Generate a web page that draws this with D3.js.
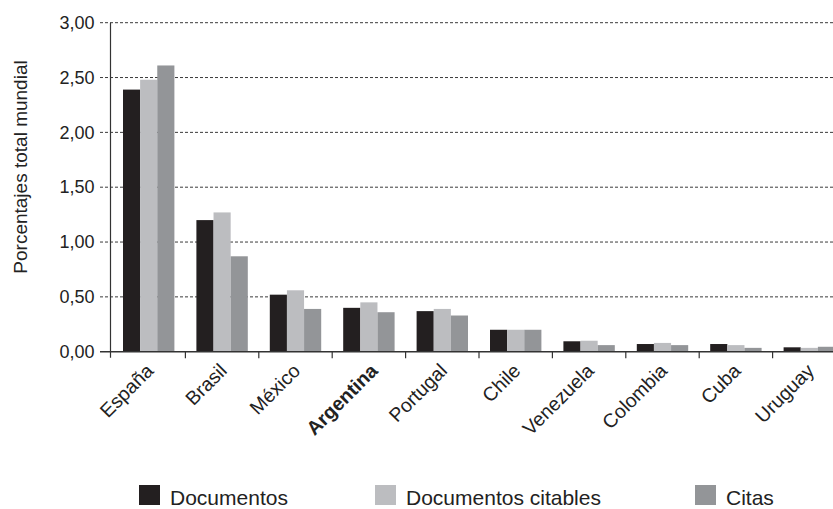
<!DOCTYPE html>
<html>
<head>
<meta charset="utf-8">
<script src="https://cdn.jsdelivr.net/npm/d3@7"></script>
<style>
  html, body { margin: 0; padding: 0; background: #fff; }
  svg { display: block; font-family: "Liberation Sans", Arial, Helvetica, sans-serif; }
</style>
</head>
<body>
<svg id="chart" width="833" height="509"></svg>
<script>
const categories = ["España","Brasil","México","Argentina","Portugal","Chile","Venezuela","Colombia","Cuba","Uruguay"];
const documentos = [2.39, 1.20, 0.52, 0.40, 0.37, 0.20, 0.095, 0.07, 0.07, 0.04];
const documentosCitables = [2.48, 1.27, 0.56, 0.45, 0.39, 0.20, 0.10, 0.08, 0.06, 0.035];
const citas = [2.61, 0.87, 0.39, 0.36, 0.33, 0.20, 0.06, 0.06, 0.035, 0.045];
const seriesNames = ["Documentos", "Documentos citables", "Citas"];
const seriesColors = ["#231f20", "#bcbdc0", "#939598"];
const yTicks = [0, 0.5, 1, 1.5, 2, 2.5, 3];
const yTitle = "Porcentajes total mundial";
const boldCategory = "Argentina";

const seriesValues = [documentos, documentosCitables, citas];
const svg = d3.select("#chart");

const y = d3.scaleLinear().domain([0, 3]).range([351.7, 22.7]);
const x0 = d3.scaleBand().domain(categories).range([112, 846]).padding(0);
const x1 = d3.scaleBand().domain(seriesNames).range([11, x0.bandwidth() - 11]).padding(0);

// gridlines
svg.append("g").selectAll("line")
  .data(yTicks.filter(d => d > 0))
  .join("line")
  .attr("x1", 100).attr("x2", 833)
  .attr("y1", d => y(d)).attr("y2", d => y(d))
  .attr("stroke", "#3a3a3a").attr("stroke-width", 1)
  .attr("stroke-dasharray", "3,2");

// y axis labels via d3 axis
const yAxis = d3.axisLeft(y).tickValues(yTicks)
  .tickFormat(d => d.toFixed(2).replace(".", ","))
  .tickSize(0).tickPadding(16);
const yg = svg.append("g").attr("transform", "translate(110.5,0)").call(yAxis);
yg.select(".domain").remove();
yg.selectAll("text").attr("font-size", 18).attr("fill", "#222")
  .attr("font-family", "Liberation Sans, Arial, sans-serif");

// bars
const rows = categories.map((c, i) => ({ cat: c, vals: seriesNames.map((s, j) => ({ s, j, v: seriesValues[j][i] })) }));
svg.append("g").selectAll("g")
  .data(rows).join("g")
  .attr("transform", d => `translate(${x0(d.cat)},0)`)
  .selectAll("rect")
  .data(d => d.vals).join("rect")
  .attr("x", d => x1(d.s))
  .attr("width", x1.bandwidth())
  .attr("y", d => y(d.v))
  .attr("height", d => y(0) - y(d.v))
  .attr("fill", d => seriesColors[d.j]);

// baseline
svg.append("line").attr("x1", 100).attr("x2", 833)
  .attr("y1", y(0)).attr("y2", y(0))
  .attr("stroke", "#333").attr("stroke-width", 1.4);

// y axis line
svg.append("line").attr("x1", 110.5).attr("x2", 110.5)
  .attr("y1", y(3)).attr("y2", y(0) + 6)
  .attr("stroke", "#333").attr("stroke-width", 1.2);

// x ticks at band boundaries
svg.append("g").selectAll("line")
  .data(categories.slice(1)).join("line")
  .attr("x1", d => x0(d)).attr("x2", d => x0(d))
  .attr("y1", y(0)).attr("y2", y(0) + 6.5)
  .attr("stroke", "#333").attr("stroke-width", 1.2);

// x labels
svg.append("g").selectAll("text")
  .data(categories).join("text")
  .attr("transform", d => `translate(${x0(d) + x0.bandwidth() / 2 + (d === boldCategory ? 10 : 6)},372) rotate(-45)`)
  .attr("text-anchor", "end")
  .attr("font-size", 19.5)
  .attr("font-weight", d => d === boldCategory ? "bold" : "normal")
  .attr("fill", "#222")
  .text(d => d);

// y title
svg.append("text")
  .attr("transform", "translate(27,167) rotate(-90)")
  .attr("text-anchor", "middle")
  .attr("font-size", 19)
  .attr("fill", "#222")
  .text(yTitle);

// legend
const legendX = [139, 375, 695];
const lg = svg.append("g").selectAll("g")
  .data(seriesNames).join("g")
  .attr("transform", (d, i) => `translate(${legendX[i]},485)`);
lg.append("rect").attr("width", 21).attr("height", 20)
  .attr("fill", (d, i) => seriesColors[i]);
lg.append("text").attr("x", 31).attr("y", 19.5)
  .attr("font-size", 21).attr("fill", "#222")
  .text(d => d);
</script>
</body>
</html>
